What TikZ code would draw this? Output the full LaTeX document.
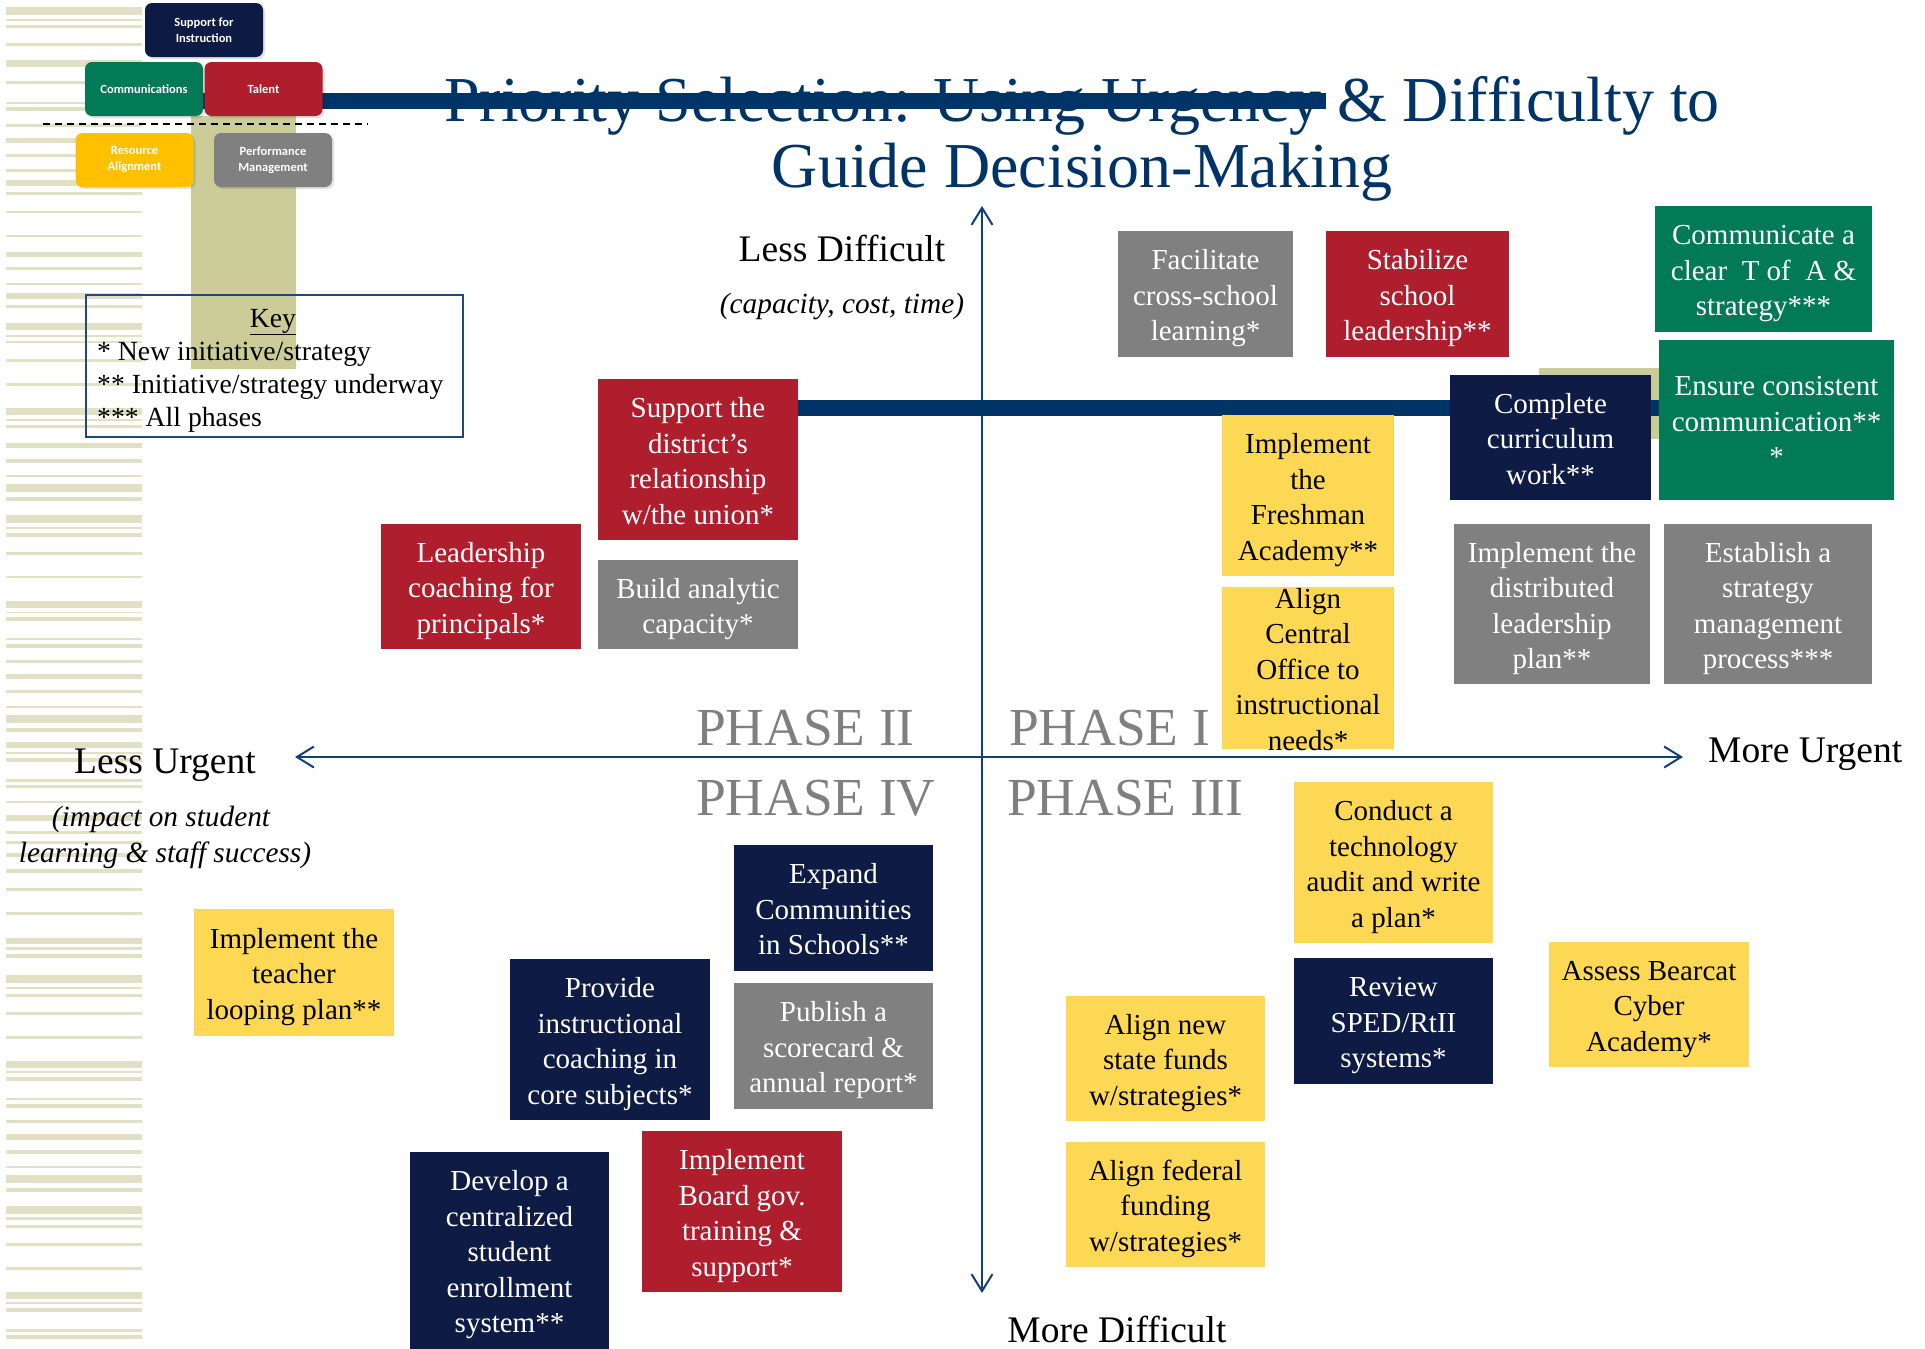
\documentclass[tikz,border=0pt]{standalone}
\usepackage{fontspec}
\setmainfont{Liberation Serif}
\newfontfamily\logofont{Carlito}
\usetikzlibrary{arrows.meta}
\definecolor{navybox}{RGB}{14,27,69}
\definecolor{redbox}{RGB}{175,30,45}
\definecolor{greenbox}{RGB}{2,122,85}
\definecolor{graybox}{RGB}{128,128,128}
\definecolor{yellowbox}{RGB}{253,216,84}
\definecolor{logoyellow}{RGB}{255,192,0}
\definecolor{titleblue}{RGB}{0,51,102}
\definecolor{axisblue}{RGB}{16,62,122}
\definecolor{beige}{RGB}{204,204,153}
\definecolor{stripe}{RGB}{226,224,196}
\definecolor{phasegray}{RGB}{127,127,127}
\definecolor{keyblue}{RGB}{31,73,125}
\newcommand\bxfont{\fontsize{29}{35.5}\selectfont}
\newcommand\lblfont{\fontsize{37.5}{44}\selectfont}
\newcommand\smfont{\fontsize{29.3}{34}\selectfont}
\newcommand\keyfont{\fontsize{27.7}{33}\selectfont}
% #1 style, #2 name, #3 x, #4 y, #5 width, #6 height, #7 text
\newcommand\mkbox[7]{%
  \node[#1, minimum width=#5pt, minimum height=#6pt] (#2) at (#3,#4) {};
  \node[#1, fill=none, minimum width=0pt, minimum height=0pt] (#2t) at ([yshift=-2pt]#2.center)
    {\rule{0pt}{26pt}#7\rule[-7.5pt]{0pt}{7.5pt}};}
\begin{document}
\begin{tikzpicture}[x=1pt,y=-1pt,
  box/.style={inner sep=0pt, align=center, font=\bxfont, text=white},
  navyb/.style={box, fill=navybox},
  redb/.style={box, fill=redbox},
  greenb/.style={box, fill=greenbox},
  grayb/.style={box, fill=graybox},
  yellowb/.style={box, fill=yellowbox, text=black},
  logob/.style={inner sep=0pt, rounded corners=7pt, align=center, text=white,
    font=\logofont\bfseries\fontsize{12.5}{16}\selectfont,
    minimum width=118pt, minimum height=54pt},
  phase/.style={inner sep=0pt, anchor=base west, text=phasegray, font=\fontsize{53.5}{60}\selectfont},
  lbl/.style={inner sep=0pt, anchor=base, font=\lblfont},
  sublbl/.style={inner sep=0pt, anchor=base, font=\itshape\smfont},
  keytext/.style={inner sep=0pt, anchor=base west, font=\keyfont},
  axisline/.style={draw=axisblue, line width=2pt,
    {Straight Barb[length=17pt,width=21pt]}-{Straight Barb[length=17pt,width=21pt]}},
]
\useasboundingbox (0,0) rectangle (1925,1349);
% left stripes
\foreach \a/\b in {7/15, 19/21, 25/28, 43/46, 60/67, 81/84, 102/104, 107/111, 124/127, 138/143, 154/157, 169/172, 180/186, 192/195, 211/213, 235/237, 252/257, 267/270, 283/285, 293/299, 305/308, 323/330, 335/337, 341/343, 359/362, 383/386, 408/415, 419/421, 425/428, 443/448, 459/463, 475/477, 484/492, 497/501, 515/523, 527/529, 533/537, 552/555, 576/578, 601/608, 612/613, 617/621, 638/640, 644/648, 660/663, 674/679, 690/693, 706/708, 715/723, 728/732, 742/748, 752/754, 758/762, 779/782, 785/788, 801/803, 815/821, 831/834, 841/844, 853/857, 869/873, 888/891, 912/915, 938/944, 947/950, 954/958, 975/983, 987/989, 994/997, 1012/1015, 1036/1039, 1061/1068, 1071/1073, 1077/1081, 1098/1100, 1104/1108, 1120/1123, 1134/1140, 1150/1154, 1166/1168, 1175/1183, 1188/1192, 1206/1214, 1217/1220, 1225/1228, 1243/1246, 1267/1270, 1292/1299, 1302/1304, 1308/1312, 1329/1332, 1335/1339}
  \fill[stripe] (6,\a) rectangle (142,\b);
% beige vertical rectangle of the logo
\fill[beige] (191,116) rectangle (296,369);
% title
\node[inner sep=0pt, anchor=base, text=titleblue, font=\fontsize{64}{66}\selectfont] (title1) at (1082,121) {Priority Selection: Using Urgency \& Difficulty to};
\node[inner sep=0pt, anchor=base, text=titleblue, font=\fontsize{64}{66}\selectfont] (title2) at (1082,187) {Guide Decision-Making};
\fill[titleblue] (190,93) rectangle (1326,109);
% logo
\foreach \x/\y in {204/30, 144/89, 263.5/89, 134.5/160, 273/160}
  \fill[black, opacity=0.12, rounded corners=7pt] (\x-57,\y-25) rectangle (\x+61,\y+29);
\node[logob, fill=navybox] (sup) at (204,30) {Support for\\Instruction};
\node[logob, fill=greenbox] (com) at (144,89) {Communications};
\node[logob, fill=redbox] (tal) at (263.5,89) {Talent};
\draw[black, line width=1.6pt, dash pattern=on 7pt off 5pt] (43,124) -- (368,124);
\node[logob, fill=logoyellow] (res) at (134.5,160) {Resource\\Alignment};
\node[logob, fill=graybox] (perf) at (273,160) {Performance\\Management};
% key
\draw[keyblue, line width=2pt] (86,295) rectangle (463,437);
\node[keytext, anchor=base] (keyt) at (273,327) {\underline{Key}};
\node[keytext] (key1) at (97,360) {* New initiative/strategy};
\node[keytext] (key2) at (97,393) {** Initiative/strategy underway};
\node[keytext] (key3) at (97,426) {*** All phases};
% axes
\coordinate (vtop) at (982,206);
\coordinate (vbot) at (982,1293);
\coordinate (hleft) at (295,757);
\coordinate (hright) at (1683,757);
\draw[axisline] (vbot) -- (vtop);
\draw[axisline] (hleft) -- (hright);
% middle decoration
\fill[beige] (1539,368) rectangle (1659,439);
\fill[titleblue] (780,400) rectangle (1700,416);
% axis labels
\node[lbl] (lessdiff) at (842,261) {Less Difficult};
\node[sublbl] (cap) at (842,313) {(capacity, cost, time)};
\node[lbl] (lessurg) at (165,773) {Less Urgent};
\node[sublbl] (imp1) at (161,826) {(impact on student};
\node[sublbl] (imp2) at (165,862) {learning \& staff success)};
\node[lbl, anchor=base west] (moreurg) at (1708,762) {More Urgent};
\node[lbl] (morediff) at (1117,1342) {More Difficult};
% phases
\node[phase] (ph2) at (696,745) {PHASE II};
\node[phase] (ph1) at (1009,745) {PHASE I};
\node[phase] (ph4) at (696,815) {PHASE IV};
\node[phase] (ph3) at (1007,815) {PHASE III};
% boxes
\mkbox{grayb}{A}{1205.5}{294}{175}{126}{Facilitate\\cross-school\\learning*}
\mkbox{redb}{B}{1417.5}{294}{183}{126}{Stabilize\\school\\leadership**}
\mkbox{greenb}{C}{1763.5}{269}{217}{126}{Communicate a\\clear\ \ T of\ \ A \&\\strategy***}
\mkbox{greenb}{D}{1776.5}{420}{235}{160}{Ensure consistent\\communication**\\*}
\mkbox{navyb}{E}{1550.5}{437.5}{201}{125}{Complete\\curriculum\\work**}
\mkbox{yellowb}{F}{1308}{495.5}{172}{161}{Implement\\the\\Freshman\\Academy**}
\mkbox{yellowb}{G}{1308}{668}{172}{162}{Align\\Central\\Office to\\instructional\\needs*}
\mkbox{grayb}{H}{1552}{604}{196}{160}{Implement the\\distributed\\leadership\\plan**}
\mkbox{grayb}{I}{1768}{604}{208}{160}{Establish a\\strategy\\management\\process***}
\mkbox{redb}{J}{698}{459.5}{200}{161}{Support the\\district's\\relationship\\w/the union*}
\mkbox{grayb}{K}{698}{604.5}{200}{89}{Build analytic\\capacity*}
\mkbox{redb}{L}{481}{586.5}{200}{125}{Leadership\\coaching for\\principals*}
\mkbox{navyb}{M}{833.5}{908}{199}{126}{Expand\\Communities\\in Schools**}
\mkbox{grayb}{N}{833.5}{1046}{199}{126}{Publish a\\scorecard \&\\annual report*}
\mkbox{navyb}{O}{610}{1039.5}{200}{161}{Provide\\instructional\\coaching in\\core subjects*}
\mkbox{redb}{P}{742}{1211.5}{200}{161}{Implement\\Board gov.\\training \&\\support*}
\mkbox{navyb}{Q}{509.5}{1250.5}{199}{197}{Develop a\\centralized\\student\\enrollment\\system**}
\mkbox{yellowb}{R}{294}{972.5}{200}{127}{Implement the\\teacher\\looping plan**}
\mkbox{yellowb}{S}{1393.5}{862.5}{199}{161}{Conduct a\\technology\\audit and write\\a plan*}
\mkbox{navyb}{T}{1393.5}{1021}{199}{126}{Review\\SPED/RtII\\systems*}
\mkbox{yellowb}{U}{1649}{1004.5}{200}{125}{Assess Bearcat\\Cyber\\Academy*}
\mkbox{yellowb}{V}{1165.5}{1058.5}{199}{125}{Align new\\state funds\\w/strategies*}
\mkbox{yellowb}{W}{1165.5}{1204.5}{199}{125}{Align federal\\funding\\w/strategies*}
\end{tikzpicture}
\end{document}
